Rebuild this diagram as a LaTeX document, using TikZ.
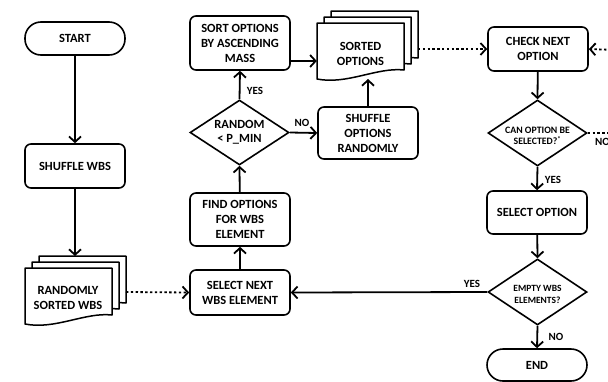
\documentclass[tikz,border=0pt]{standalone}
\usepackage{fontspec}
\setmainfont{Carlito}
\usetikzlibrary{arrows.meta,shapes.geometric,calc}

\tikzset{
  base/.style={draw, line width=1.6pt, align=center, font=\bfseries\fontsize{12.5}{15}\selectfont, inner sep=0pt},
  proc/.style={base, rectangle, rounded corners=6pt, minimum width=100pt},
  term/.style={base, rectangle, rounded corners=16pt, minimum width=100pt, minimum height=33pt},
  dec/.style={base, diamond, aspect=1.5, minimum width=99pt, minimum height=65pt},
  arr/.style={line width=1.8pt, -{Straight Barb[length=5.5pt,width=12pt,line width=1.8pt]}},
  dots/.style={arr, line cap=butt, dash pattern=on 2.4pt off 2.4pt},
  lbl/.style={font=\bfseries\fontsize{11}{13}\selectfont, inner sep=0pt},
  page/.style={draw, fill=white, line width=1.5pt, line join=round},
  doctext/.style={align=center, font=\bfseries\fontsize{12.5}{15}\selectfont, inner sep=0pt},
  smalltext/.style={align=center, inner sep=0pt}
}

% one document page with a wavy lower edge, top-left corner at (#1,#2), y pointing down
\newcommand{\docpage}[2]{%
  \pgfmathsetmacro\dpx{#1}\pgfmathsetmacro\dpy{#2}%
  \draw[page] (\dpx,\dpy) -- (\dpx+87,\dpy) -- (\dpx+87,\dpy+47)
    .. controls (\dpx+60,\dpy+44) and (\dpx+30,\dpy+62) .. (\dpx,\dpy+56) -- cycle;}
% a stack of three pages, front page top-left at (#1,#2)
\newcommand{\docstack}[2]{%
  \docpage{#1+14}{#2-12}\docpage{#1+7}{#2-6}\docpage{#1}{#2}}

\begin{document}
\begin{tikzpicture}[x=1pt,y=-1pt]
\useasboundingbox (0,0) rectangle (608,381);

% document stacks
\docstack{25}{268}
\docstack{317}{23}
\node[doctext] (rsw) at (68,298) {RANDOMLY\\SORTED WBS};
\node[doctext, minimum width=87pt] (sorted) at (360.5,53.5) {SORTED\\OPTIONS};
\coordinate (rswtop) at (75,256);
\coordinate (rswright) at (126,292);
\coordinate (sortedbot) at (368,79);
\coordinate (sortedright) at (418,49);
\coordinate (retin) at (616,50);
\coordinate (noout) at (616,133);

% process steps
\node[term] (start) at (75,38.5) {START};
\node[proc, minimum height=44pt] (shwbs) at (75,166) {SHUFFLE WBS};
\node[proc, minimum height=45pt] (selnext) at (240,292.5) {SELECT NEXT\\WBS ELEMENT};
\node[proc, minimum height=53pt] (findopt) at (240,219.5) {FIND OPTIONS\\FOR WBS\\ELEMENT};
\node[dec] (rnd) at (239.5,132.5) {RANDOM\\[-1.5pt]< P\_MIN};
\node[proc, minimum height=54pt] (sortopt) at (240,43) {SORT OPTIONS\\BY ASCENDING\\MASS};
\node[proc, minimum height=52pt] (shufopt) at (368,133) {SHUFFLE\\OPTIONS\\RANDOMLY};
\node[proc, minimum height=44pt] (check) at (538,49) {CHECK NEXT\\OPTION};
\node[dec, minimum height=66pt] (canopt) at (537.5,133) {};
\node[smalltext, font=\bfseries\fontsize{9.8}{11.5}\selectfont] (canopttxt) at (537.5,136) {CAN OPTION BE\\SELECTED?\textsuperscript{*}};
\node[proc, minimum height=43pt] (selopt) at (537,212.5) {SELECT OPTION};
\node[dec, minimum height=66pt] (empty) at (537.5,292) {};
\node[smalltext, font=\bfseries\fontsize{9.5}{12}\selectfont] (emptytxt) at (537.5,294.5) {EMPTY WBS\\ELEMENTS?};
\node[term, minimum height=32pt] (endn) at (537,365) {END};

% connectors
\draw[arr] (start) -- (shwbs);
\draw[arr] (shwbs) -- (rswtop);
\draw[dots] (rswright) -- (selnext.west);
\draw[arr] (selnext) -- (findopt);
\draw[arr] (findopt) -- (rnd.south);
\draw[arr] (rnd.north) -- (sortopt.south);
\draw[arr] (rnd.east) -- (shufopt.west);
\draw[arr] ([yshift=-18pt]sortopt.east) -- ([yshift=-18pt]sortopt.east -| sorted.west);
\draw[arr] (shufopt.north) -- (sortedbot);
\draw[dots] (sortedright) -- (check.west);
\draw[dots] (retin) -- (check.east);
\draw[arr] (check) -- (canopt.north);
\draw[dots, -] (canopt.east) -- (noout);
\draw[arr] (canopt.south) -- (selopt.north);
\draw[arr] (selopt) -- (empty.north);
\draw[arr] (empty.west) -- (selnext.east);
\draw[arr] (empty.south) -- (endn.north);

% branch labels
\node[lbl] (ly1) at (255,91) {YES};
\node[lbl] (ln1) at (302,123) {NO};
\node[lbl] (ly2) at (553,180) {YES};
\node[lbl, anchor=west] (ln2) at (595,142) {NO};
\node[lbl] (ly3) at (472,284) {YES};
\node[lbl] (ln3) at (556,337) {NO};
\end{tikzpicture}
\end{document}
